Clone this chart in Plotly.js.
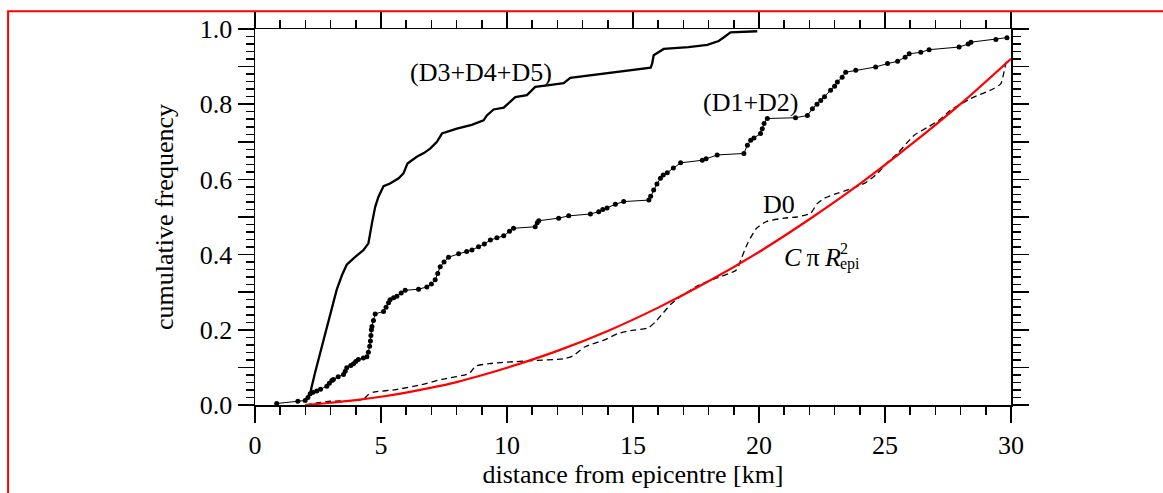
<!DOCTYPE html>
<html>
<head>
<meta charset="utf-8">
<script src="https://cdn.plot.ly/plotly-3.0.1.min.js"></script>
<style>html,body{margin:0;padding:0;background:#fff;}#chart{width:1163px;height:493px;}</style>
</head>
<body>
<div id="chart"></div>
<script>
// (D3+D4+D5) cumulative curve
const d345X = [1.99,2.19,2.38,2.58,2.78,3.05,3.24,3.45,3.64,3.91,4.30,4.50,4.58,4.64,4.77,4.90,5.10,5.36,5.70,5.89,6.05,6.42,6.70,6.95,7.22,7.42,8.01,8.60,9.07,9.20,9.47,9.87,10.10,10.33,10.79,11.12,11.60,12.25,12.51,13.20,13.84,14.90,15.70,15.76,15.82,16.22,17.20,17.95,18.40,18.61,18.87,19.93];
const d345Y = [0.010,0.032,0.085,0.138,0.183,0.262,0.306,0.345,0.373,0.390,0.412,0.430,0.455,0.483,0.527,0.554,0.582,0.589,0.603,0.616,0.642,0.660,0.670,0.682,0.700,0.722,0.735,0.745,0.757,0.770,0.786,0.791,0.805,0.819,0.824,0.846,0.850,0.856,0.870,0.876,0.881,0.890,0.897,0.908,0.930,0.947,0.952,0.958,0.968,0.978,0.991,0.994];

// (D1+D2) cumulative curve (events shown as dots)
const d12X = [0.86,1.70,1.99,2.10,2.19,2.30,2.45,2.60,2.85,2.95,3.05,3.11,3.30,3.51,3.58,3.64,3.80,3.91,4.00,4.10,4.30,4.44,4.50,4.55,4.58,4.60,4.62,4.64,4.70,4.77,5.10,5.20,5.30,5.36,5.50,5.63,5.80,5.96,6.49,6.82,7.00,7.15,7.25,7.35,7.50,7.68,8.08,8.40,8.61,8.87,9.10,9.34,9.60,9.87,10.10,10.26,11.12,11.20,11.26,12.05,12.45,13.31,13.64,13.80,13.97,14.30,14.63,15.63,15.70,15.82,15.95,16.09,16.20,16.36,16.60,16.89,17.75,17.90,18.34,19.40,19.54,19.67,19.80,20.06,20.13,20.20,20.33,21.45,21.92,22.12,22.30,22.45,22.60,22.84,23.00,23.11,23.30,23.44,23.84,24.63,25.10,25.50,25.80,25.96,26.42,26.75,27.94,28.30,28.41,29.40,29.84];
const d12Y = [0.004,0.010,0.012,0.020,0.030,0.034,0.037,0.042,0.050,0.058,0.065,0.068,0.075,0.081,0.090,0.099,0.105,0.110,0.116,0.121,0.125,0.128,0.140,0.156,0.170,0.185,0.200,0.209,0.225,0.242,0.249,0.260,0.272,0.280,0.285,0.289,0.298,0.305,0.308,0.314,0.322,0.333,0.350,0.368,0.380,0.393,0.402,0.408,0.412,0.421,0.428,0.439,0.445,0.450,0.462,0.470,0.474,0.485,0.490,0.497,0.503,0.508,0.514,0.520,0.524,0.534,0.541,0.545,0.555,0.572,0.588,0.603,0.612,0.618,0.630,0.644,0.651,0.655,0.665,0.669,0.691,0.704,0.710,0.722,0.735,0.749,0.762,0.764,0.770,0.788,0.800,0.810,0.820,0.837,0.848,0.859,0.872,0.885,0.890,0.899,0.908,0.914,0.925,0.934,0.938,0.945,0.952,0.960,0.965,0.972,0.977];

// D0 cumulative curve (dashed)
const d0X = [2.0,2.5,3.0,4.3,4.5,4.7,5.6,6.6,7.4,8.5,8.75,9.3,10.0,11.0,12.25,12.6,13.1,13.9,14.4,14.9,15.6,15.9,16.2,16.5,16.9,17.2,17.6,18.2,19.1,19.3,19.55,19.9,20.3,21.0,21.5,22.05,22.3,22.6,23.1,23.7,24.2,24.7,25.1,25.5,26.15,26.7,27.2,27.6,28.4,29.3,29.6,29.8,29.93];
const d0Y = [0.0,0.006,0.010,0.015,0.028,0.034,0.041,0.054,0.068,0.084,0.103,0.110,0.114,0.118,0.123,0.130,0.155,0.174,0.190,0.198,0.205,0.222,0.245,0.268,0.289,0.302,0.318,0.335,0.359,0.390,0.430,0.470,0.488,0.497,0.500,0.510,0.535,0.550,0.563,0.576,0.590,0.616,0.645,0.669,0.717,0.739,0.760,0.784,0.815,0.841,0.855,0.908,0.921];

// C*pi*R_epi^2 reference curve (red)
const refX = [2,3,4,5,6,7,8,9,10,12,14,16,18,20,22,24,26,28,30];
const refY = [0.0,0.006,0.013,0.022,0.033,0.046,0.061,0.079,0.099,0.144,0.197,0.259,0.329,0.407,0.494,0.588,0.691,0.801,0.921];

// axis ticks
const yTickVals = [0,0.1,0.2,0.3,0.4,0.5,0.6,0.7,0.8,0.9,1.0];
const yTickText = ['0.0','','0.2','','0.4','','0.6','','0.8','','1.0'];
const xTickVals = [0,5,10,15,20,25,30];
const xTickText = ['0','5','10','15','20','25','30'];

const FONT = "'Liberation Serif', 'Times New Roman', serif";

const traces = [
  {x: d0X, y: d0Y, mode: 'lines', type: 'scatter',
   line: {color: '#000', width: 1.3, dash: '6px,4px', shape: 'spline', smoothing: 0.6}, hoverinfo: 'skip'},
  {x: d12X, y: d12Y, mode: 'lines+markers', type: 'scatter',
   line: {color: '#000', width: 1}, marker: {color: '#000', size: 5}, hoverinfo: 'skip'},
  {x: d345X, y: d345Y, mode: 'lines', type: 'scatter',
   line: {color: '#000', width: 2.3}, hoverinfo: 'skip'},
  {x: refX, y: refY, mode: 'lines', type: 'scatter',
   line: {color: '#ff0000', width: 2.2, shape: 'spline'}, hoverinfo: 'skip'}
];

const axisCommon = {
  showline: true, linecolor: '#000', linewidth: 1.5, mirror: 'ticks',
  ticks: 'outside', ticklen: 16, tickwidth: 1.5, tickcolor: '#000',
  showgrid: false, zeroline: false,
  tickfont: {family: FONT, size: 26, color: '#000'}
};

const layout = {
  width: 1163, height: 493,
  margin: {l: 255, r: 152, t: 29, b: 88},
  paper_bgcolor: '#fff', plot_bgcolor: '#fff',
  showlegend: false,
  font: {family: FONT, color: '#000'},
  xaxis: Object.assign({}, axisCommon, {
    range: [0, 30], tickmode: 'array', tickvals: xTickVals, ticktext: xTickText,
    minor: {dtick: 1, ticks: 'outside', ticklen: 8, tickwidth: 1.5, tickcolor: '#000', showgrid: false},
    title: {text: 'distance from epicentre [km]', font: {family: FONT, size: 26, color: '#000'}, standoff: 6}
  }),
  yaxis: Object.assign({}, axisCommon, {
    range: [0, 1], tickmode: 'array', tickvals: yTickVals, ticktext: yTickText,
    minor: {dtick: 0.02, tick0: 0, ticks: 'outside', ticklen: 8, tickwidth: 1.5, tickcolor: '#000', showgrid: false},
    title: {text: 'cumulative frequency', font: {family: FONT, size: 26, color: '#000'}, standoff: 18}
  }),
  annotations: [
    {x: 8.96, y: 0.885, xref: 'x', yref: 'y', text: '(D3+D4+D5)', showarrow: false,
     font: {family: FONT, size: 26, color: '#000'}, xanchor: 'center', yanchor: 'middle'},
    {x: 19.70, y: 0.804, xref: 'x', yref: 'y', text: '(D1+D2)', showarrow: false,
     font: {family: FONT, size: 26, color: '#000'}, xanchor: 'center', yanchor: 'middle'},
    {x: 20.79, y: 0.534, xref: 'x', yref: 'y', text: 'D0', showarrow: false,
     font: {family: FONT, size: 26, color: '#000'}, xanchor: 'center', yanchor: 'middle'},
    {x: 20.93, y: 0.392, xref: 'x', yref: 'y', text: '<i>C</i>\u2009π\u2009<i>R</i>', showarrow: false,
     font: {family: FONT, size: 26, color: '#000'}, xanchor: 'left', yanchor: 'middle'},
    {x: 23.15, y: 0.415, xref: 'x', yref: 'y', text: '2', showarrow: false,
     font: {family: FONT, size: 16, color: '#000'}, xanchor: 'left', yanchor: 'middle'},
    {x: 23.15, y: 0.374, xref: 'x', yref: 'y', text: 'epi', showarrow: false,
     font: {family: FONT, size: 16, color: '#000'}, xanchor: 'left', yanchor: 'middle'}
  ],
  shapes: [
    {type: 'rect', xref: 'paper', yref: 'paper', x0: -0.3266, x1: 1.4, y0: -0.4, y1: 1.0475,
     line: {color: '#ff0000', width: 2}, fillcolor: 'rgba(0,0,0,0)', layer: 'below'}
  ]
};

Plotly.newPlot('chart', traces, layout, {staticPlot: true, displayModeBar: false});
</script>
</body>
</html>
